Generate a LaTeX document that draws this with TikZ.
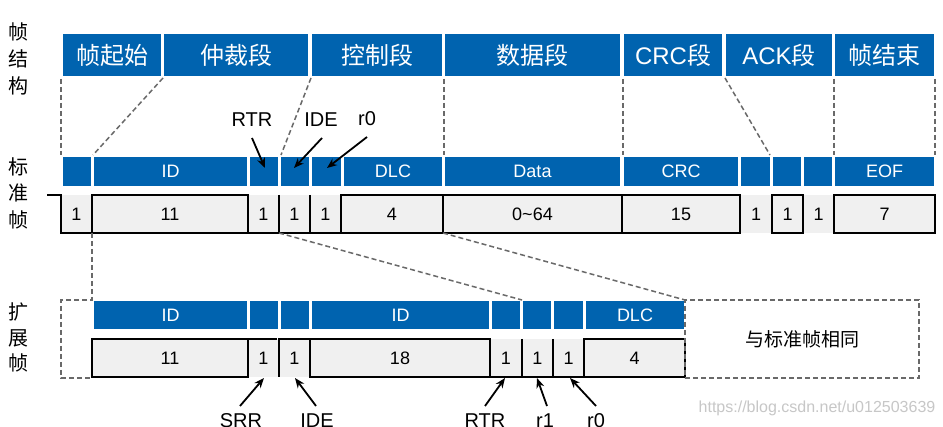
\documentclass[tikz,border=0pt]{standalone}
\usepackage{fontspec}
\setmainfont{Liberation Sans}
\newfontfamily\cjk{Noto Sans CJK SC}
\usetikzlibrary{arrows.meta}
\definecolor{canblue}{RGB}{0,99,175}
\definecolor{cellgray}{RGB}{240,240,240}
\definecolor{dashgray}{RGB}{105,105,105}
\newcommand\mkcell[7]{%
  \pgfmathsetmacro\mkW{#3-#2}\pgfmathsetmacro\mkH{#5-#4}%
  \node[#6, minimum width=\mkW pt, minimum height=\mkH pt] (#1) at ({(#2+#3)/2},{(#4+#5)/2}) {#7};}
\begin{document}
\begin{tikzpicture}[x=1pt,y=-1pt,
  bluebox/.style={fill=canblue, text=white, inner sep=0pt, outer sep=0pt, font=\fontsize{24}{28}\selectfont},
  bluecell/.style={fill=canblue, text=white, inner sep=0pt, outer sep=0pt, font=\fontsize{18}{20}\selectfont},
  graycell/.style={fill=cellgray, inner sep=0pt, outer sep=0pt, font=\fontsize{18}{20}\selectfont},
  boxcell/.style={graycell, draw=black, line width=2pt},
  wave/.style={draw=black, line width=2pt},
  dashln/.style={draw=dashgray, line width=1.5pt, dash pattern=on 5pt off 3pt},
  samebox/.style={dashln, inner sep=0pt, outer sep=0pt, font=\cjk\fontsize{19}{22}\selectfont},
  arr/.style={draw=black, line width=1.8pt, -{Stealth[length=10pt,width=8pt]}},
  sidelbl/.style={font=\cjk\fontsize{20}{22}\selectfont, inner sep=0pt},
  tag/.style={font=\fontsize{20}{22}\selectfont, inner sep=0pt},
  wmark/.style={font=\fontsize{16}{18}\selectfont, text=black!22, inner sep=0pt},
]
\useasboundingbox (0,0) rectangle (943,427);
\clip (0,0) rectangle (943,427);
\fill[white] (0,0) rectangle (943,427);

% side labels
\node[sidelbl] (f1) at (19,32) {帧};
\node[sidelbl] (f2) at (19,59) {结};
\node[sidelbl] (f3) at (19,86) {构};
\node[sidelbl] (g1) at (19,167) {标};
\node[sidelbl] (g2) at (19,193) {准};
\node[sidelbl] (g3) at (19,220) {帧};
\node[sidelbl] (h1) at (19,312) {扩};
\node[sidelbl] (h2) at (19,338) {展};
\node[sidelbl] (h3) at (19,363) {帧};

% top row
\mkcell{t1}{63}{161}{34}{76}{bluebox}{\cjk 帧起始}
\mkcell{t2}{164}{308}{34}{76}{bluebox}{\cjk 仲裁段}
\mkcell{t3}{312}{442}{34}{76}{bluebox}{\cjk 控制段}
\mkcell{t4}{445}{620}{34}{76}{bluebox}{\cjk 数据段}
\mkcell{t5}{624}{722}{34}{76}{bluebox}{CRC{\cjk 段}}
\mkcell{t6}{726}{832}{34}{76}{bluebox}{ACK{\cjk 段}}
\mkcell{t7}{835}{934}{34}{76}{bluebox}{\cjk 帧结束}

% standard frame field names
\mkcell{b1}{63}{91}{157}{186}{bluecell}{}
\mkcell{b2}{94}{247}{157}{186}{bluecell}{ID}
\mkcell{b3}{250}{278}{157}{186}{bluecell}{}
\mkcell{b4}{281}{309}{157}{186}{bluecell}{}
\mkcell{b5}{312}{341}{157}{186}{bluecell}{}
\mkcell{b6}{344}{442}{157}{186}{bluecell}{DLC}
\mkcell{b7}{445}{620}{157}{186}{bluecell}{Data}
\mkcell{b8}{624}{738}{157}{186}{bluecell}{CRC}
\mkcell{b9}{741}{770}{157}{186}{bluecell}{}
\mkcell{b10}{773}{801}{157}{186}{bluecell}{}
\mkcell{b11}{804}{832}{157}{186}{bluecell}{}
\mkcell{b12}{835}{934}{157}{186}{bluecell}{EOF}

% standard frame bits
\mkcell{s1}{61}{92}{195}{233}{graycell}{1}
\mkcell{s3}{248}{279}{195}{233}{graycell}{1}
\mkcell{s4}{279}{310}{195}{233}{graycell}{1}
\mkcell{s5}{310}{341}{195}{233}{graycell}{1}
\mkcell{s9}{740}{772}{195}{233}{graycell}{1}
\mkcell{s11}{803}{834}{195}{233}{graycell}{1}
\mkcell{s2}{92}{248}{195}{233}{boxcell}{11}
\mkcell{s6}{341}{443}{195}{233}{boxcell}{4}
\mkcell{s7}{443}{622}{195}{233}{boxcell}{0\textasciitilde 64}
\mkcell{s8}{622}{740}{195}{233}{boxcell}{15}
\mkcell{s10}{772}{803}{195}{233}{boxcell}{1}
\mkcell{s12}{834}{935}{195}{233}{boxcell}{7}
\coordinate (lead) at (47,195);
\draw[wave] (lead) -- (s1.north west) -- (s1.south west) -- (s1.south east);
\draw[wave] (s3.south west) -- (s5.south east);
\draw[wave] (s4.north west) -- (s4.south west);
\draw[wave] (s5.north west) -- (s5.south west);

% extended frame field names
\mkcell{x2}{94}{247}{301}{329}{bluecell}{ID}
\mkcell{x3}{250}{278}{301}{329}{bluecell}{}
\mkcell{x4}{281}{309}{301}{329}{bluecell}{}
\mkcell{x5}{312}{489}{301}{329}{bluecell}{ID}
\mkcell{x6}{492}{520}{301}{329}{bluecell}{}
\mkcell{x7}{523}{551}{301}{329}{bluecell}{}
\mkcell{x8}{554}{583}{301}{329}{bluecell}{}
\mkcell{x9}{586}{684}{301}{329}{bluecell}{DLC}

% extended frame bits
\mkcell{e3}{248}{279}{339}{377}{graycell}{1}
\mkcell{e4}{279}{310}{339}{377}{graycell}{1}
\mkcell{e6}{490}{522}{339}{377}{graycell}{1}
\mkcell{e7}{522}{553}{339}{377}{graycell}{1}
\mkcell{e8}{553}{584}{339}{377}{graycell}{1}
\mkcell{e2}{92}{248}{339}{377}{boxcell}{11}
\mkcell{e5}{310}{490}{339}{377}{boxcell}{18}
\mkcell{e9}{584}{685}{339}{377}{boxcell}{4}
\draw[wave] (e3.north west) -- ([xshift=-2pt]e3.north east);
\draw[wave] (e4.south west) -- (e4.north west) -- (e4.north east);
\draw[wave] (e6.south west) -- (e8.south east);
\draw[wave] (e7.north west) -- (e7.south west);
\draw[wave] (e8.north west) -- (e8.south west);

% same-as-standard box
\mkcell{same}{685}{919}{300}{378}{samebox}{与标准帧相同}

% dashed guide lines
\draw[dashln] (61,79) -- (61,155);
\draw[dashln] (163,78) -- (93,155);
\draw[dashln] (311,78) -- (281,155);
\draw[dashln] (444,79) -- (444,155);
\draw[dashln] (623,79) -- (623,155);
\draw[dashln] (725,78) -- (770,155);
\draw[dashln] (834,79) -- (834,155);
\draw[dashln] (935,79) -- (935,155);
\draw[dashln] (s2.south west) -- (92,300) -- (61,300) -- (61,378) -- (92,378);
\draw[dashln] (s4.south west) -- (522,300);
\draw[dashln] (s7.south west) -- (same.north west);

% top labels and arrows
\node[tag] (lRTR) at (252,120) {RTR};
\node[tag] (lIDE) at (321,120) {IDE};
\node[tag] (lr0) at (367,119) {r0};
\coordinate (aRTRs) at (252,138); \coordinate (aRTRe) at (265,168);
\coordinate (aIDEs) at (322,138); \coordinate (aIDEe) at (294,168);
\coordinate (ar0s) at (367,137);  \coordinate (ar0e) at (327,168);
\draw[arr] (aRTRs) -- (aRTRe);
\draw[arr] (aIDEs) -- (aIDEe);
\draw[arr] (ar0s) -- (ar0e);

% bottom labels and arrows
\node[tag] (lSRR) at (241,421) {SRR};
\node[tag] (lIDE2) at (317,421) {IDE};
\node[tag] (lRTR2) at (485,421) {RTR};
\node[tag] (lr1) at (545,421) {r1};
\node[tag] (lr02) at (596,421) {r0};
\coordinate (bSRRs) at (240,406); \coordinate (bSRRe) at (264,378);
\coordinate (bIDEs) at (316,406); \coordinate (bIDEe) at (295,378);
\coordinate (bRTRs) at (485,406); \coordinate (bRTRe) at (505,378);
\coordinate (br1s) at (547,406);  \coordinate (br1e) at (537,378);
\coordinate (br0s) at (596,406);  \coordinate (br0e) at (570,378);
\draw[arr] (bSRRs) -- (bSRRe);
\draw[arr] (bIDEs) -- (bIDEe);
\draw[arr] (bRTRs) -- (bRTRe);
\draw[arr] (br1s) -- (br1e);
\draw[arr] (br0s) -- (br0e);

% watermark
\node[wmark] (wm) at (817,408) {https://blog.csdn.net/u012503639};
\end{tikzpicture}
\end{document}
